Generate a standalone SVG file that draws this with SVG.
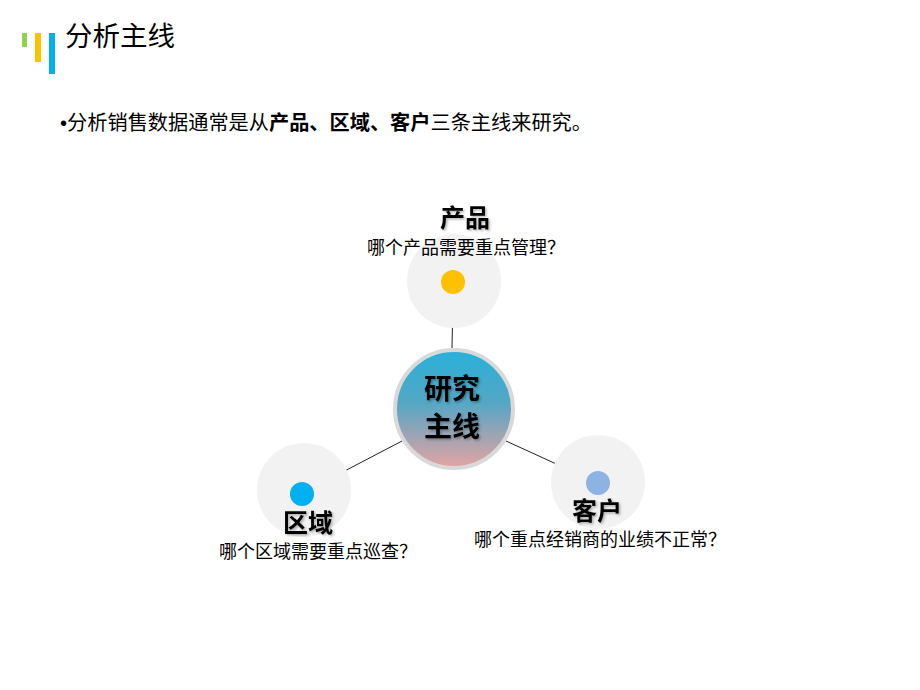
<svg xmlns="http://www.w3.org/2000/svg" width="920" height="690" viewBox="0 0 920 690">
<defs>
<linearGradient id="cg" x1="0" y1="0" x2="0" y2="1">
<stop offset="0" stop-color="#27b1d9"/>
<stop offset="0.45" stop-color="#55a6c4"/>
<stop offset="1" stop-color="#e5a3a3"/>
</linearGradient>
<filter id="sh" x="-20%" y="-20%" width="140%" height="140%">
<feDropShadow dx="1.5" dy="1.5" stdDeviation="1" flood-color="#000" flood-opacity="0.3"/>
</filter>
</defs>
<style>
text{font-family:"Noto Sans CJK SC","Liberation Sans",sans-serif;fill:#000}
.bg{fill:#f2f2f2}
.lbl{font-size:25px;font-weight:bold;text-anchor:middle}
.sub{font-size:18px;text-anchor:middle}
.con{stroke:#222;stroke-width:1}
</style>
<rect width="920" height="690" fill="#fff"/>
<g id="header">
<rect x="22" y="33" width="5" height="14" fill="#92d050"/>
<rect x="35" y="33" width="6" height="29" fill="#ffc000"/>
<rect x="49" y="33" width="6" height="41" fill="#00b0f0"/>
<text x="65" y="46" font-size="27.5">分析主线</text>
</g>
<g id="intro">
<text x="60" y="130" font-size="20.2"><tspan font-family="Liberation Sans">•</tspan>分析销售数据通常是从<tspan font-weight="bold">产品、区域、客户</tspan>三条主线来研究。</text>
</g>
<g id="connectors">
<line class="con" x1="453" y1="294" x2="452" y2="348"/>
<line class="con" x1="314" y1="487" x2="402" y2="441"/>
<line class="con" x1="506" y1="441" x2="587" y2="478"/>
</g>
<g id="node-product">
<circle class="bg" cx="454" cy="281" r="47"/>
<circle cx="453" cy="282" r="12" fill="#ffc000"/>
<text class="lbl" x="465" y="227" filter="url(#sh)">产品</text>
<text class="sub" x="466" y="254">哪个产品需要重点管理？</text>
</g>
<g id="node-region">
<circle class="bg" cx="304" cy="490" r="47"/>
<circle cx="302" cy="494" r="12" fill="#00b0f0"/>
<text class="lbl" x="308" y="532" filter="url(#sh)">区域</text>
<text class="sub" x="318" y="558">哪个区域需要重点巡查？</text>
</g>
<g id="node-customer">
<circle class="bg" cx="598" cy="482" r="47"/>
<circle cx="598" cy="483" r="12" fill="#8db3e2"/>
<text class="lbl" x="597" y="520" filter="url(#sh)">客户</text>
<text class="sub" x="600" y="546">哪个重点经销商的业绩不正常？</text>
</g>
<g id="node-center">
<circle cx="454" cy="409" r="59" fill="url(#cg)" stroke="#d9d9d9" stroke-width="4"/>
<text x="452" y="399" font-size="28" font-weight="bold" text-anchor="middle" filter="url(#sh)">研究</text>
<text x="452" y="437" font-size="28" font-weight="bold" text-anchor="middle" filter="url(#sh)">主线</text>
</g>
</svg>
